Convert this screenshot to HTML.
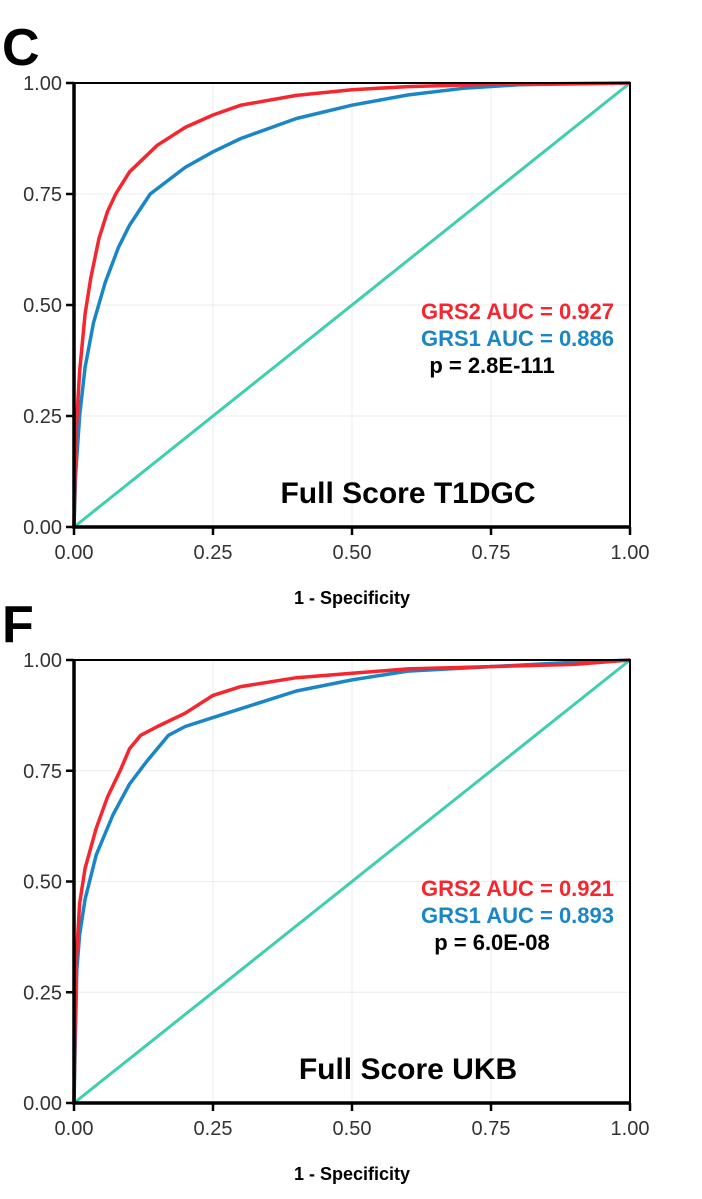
<!DOCTYPE html>
<html><head><meta charset="utf-8"><style>
body{margin:0;background:#fff;}
svg text{font-family:"Liberation Sans",Arial,sans-serif;}
</style></head><body>
<svg width="702" height="1194" xmlns="http://www.w3.org/2000/svg">
<g id="root"></g>
</svg>
<script>
const ticks=[0,0.25,0.5,0.75,1];
const tickLabels=["0.00","0.25","0.50","0.75","1.00"];
const cRedX=[0,0.003,0.01,0.02,0.03,0.045,0.06,0.075,0.1,0.15,0.2,0.25,0.3,0.4,0.5,0.6,0.75,1];
const cRedY=[0,0.2,0.35,0.48,0.56,0.65,0.71,0.75,0.8,0.86,0.9,0.928,0.95,0.972,0.985,0.992,0.997,1];
const cBlueX=[0,0.003,0.01,0.02,0.035,0.056,0.08,0.1,0.137,0.2,0.25,0.3,0.4,0.5,0.6,0.7,0.8,1];
const cBlueY=[0,0.12,0.25,0.36,0.46,0.55,0.63,0.68,0.75,0.81,0.845,0.875,0.92,0.95,0.973,0.988,0.996,1];
const fRedX=[0,0.003,0.01,0.02,0.04,0.06,0.083,0.1,0.12,0.15,0.2,0.25,0.3,0.4,0.5,0.6,0.75,0.9,1];
const fRedY=[0,0.3,0.45,0.53,0.62,0.69,0.75,0.8,0.83,0.85,0.88,0.92,0.94,0.96,0.97,0.98,0.985,0.99,1];
const fBlueX=[0,0.005,0.01,0.02,0.04,0.07,0.1,0.13,0.17,0.2,0.25,0.3,0.4,0.5,0.6,0.75,0.9,1];
const fBlueY=[0,0.3,0.38,0.46,0.56,0.65,0.72,0.77,0.83,0.85,0.87,0.89,0.93,0.955,0.975,0.985,0.995,1];
const panels=[
 {letter:"C",top:83,bottom:527,rx:cRedX,ry:cRedY,bx:cBlueX,by:cBlueY,a2:"GRS2 AUC = 0.927",a1:"GRS1 AUC = 0.886",p:"p = 2.8E-111",title:"Full Score T1DGC",name:"panel-c"},
 {letter:"F",top:660,bottom:1103,rx:fRedX,ry:fRedY,bx:fBlueX,by:fBlueY,a2:"GRS2 AUC = 0.921",a1:"GRS1 AUC = 0.893",p:"p = 6.0E-08",title:"Full Score UKB",name:"panel-f"}
];
const NS="http://www.w3.org/2000/svg";
const root=document.getElementById('root');
function mk(t,a,parent,txt){const e=document.createElementNS(NS,t);for(const k in a)e.setAttribute(k,a[k]);if(txt!==undefined)e.textContent=txt;parent.appendChild(e);return e;}
const L=74,R=630;
panels.forEach(P=>{
 const g=mk('g',{},root);
 
 
 const sx=v=>L+v*(R-L), sy=v=>P.bottom-v*(P.bottom-P.top);
 ticks.forEach((t,i)=>{
  if(t>0&&t<1){
   const gv=mk('line',{x1:sx(t),x2:sx(t),y1:P.top,y2:P.bottom,stroke:'#ebebeb','stroke-width':1},g);
   
   const gh=mk('line',{x1:L,x2:R,y1:sy(t),y2:sy(t),stroke:'#ebebeb','stroke-width':1},g);
   
  }
  const yt=mk('line',{x1:L-8,x2:L,y1:sy(t),y2:sy(t),stroke:'#000','stroke-width':2.5},g);
  
  const yl=mk('text',{x:L-12,y:sy(t)+7,'text-anchor':'end','font-size':20,fill:'#333'},g,tickLabels[i]);
  
  const xt=mk('line',{x1:sx(t),x2:sx(t),y1:P.bottom,y2:P.bottom+8,stroke:'#000','stroke-width':2.5},g);
  
  const xl=mk('text',{x:sx(t),y:P.bottom+32,'text-anchor':'middle','font-size':20,fill:'#333'},g,tickLabels[i]);
  
 });
 const diag=mk('line',{x1:sx(0),y1:sy(0),x2:sx(1),y2:sy(1),stroke:'#3fcfb0','stroke-width':3},g);
 
 const path=(xs,ys)=>xs.map((x,i)=>(i?'L':'M')+sx(x).toFixed(1)+','+sy(ys[i]).toFixed(1)).join('');
 const b=mk('path',{d:path(P.bx,P.by),fill:'none',stroke:'#1a86c8','stroke-width':3.5,'stroke-linejoin':'round'},g);
 
 const r=mk('path',{d:path(P.rx,P.ry),fill:'none',stroke:'#f6262f','stroke-width':3.5,'stroke-linejoin':'round'},g);
 
 const box=mk('rect',{x:L,y:P.top,width:R-L,height:P.bottom-P.top,fill:'none',stroke:'#000','stroke-width':2},g);
 
 const ax=mk('path',{d:`M${L},${P.top}L${L},${P.bottom}L${R},${P.bottom}`,fill:'none',stroke:'#000','stroke-width':3.5},g);
 
 const lt=mk('text',{x:2,y:P.top-18,'font-size':52,'font-weight':'bold',fill:'#000'},g,P.letter);
 
 const t2=mk('text',{x:614,y:P.top+236,'text-anchor':'end','font-size':22,'font-weight':'bold',fill:'#f6262f'},g,P.a2);
 
 const t1=mk('text',{x:614,y:P.top+263,'text-anchor':'end','font-size':22,'font-weight':'bold',fill:'#1a86c8'},g,P.a1);
 
 const tp=mk('text',{x:492,y:P.top+290,'text-anchor':'middle','font-size':22,'font-weight':'bold',fill:'#000'},g,P.p);
 
 const tt=mk('text',{x:408,y:P.bottom-24,'text-anchor':'middle','font-size':30,'font-weight':'bold',fill:'#000'},g,P.title);
 
 const xt=mk('text',{x:352,y:P.bottom+77,'text-anchor':'middle','font-size':18,'font-weight':'bold',fill:'#000'},g,'1 - Specificity');
 
});
</script>
</body></html>
